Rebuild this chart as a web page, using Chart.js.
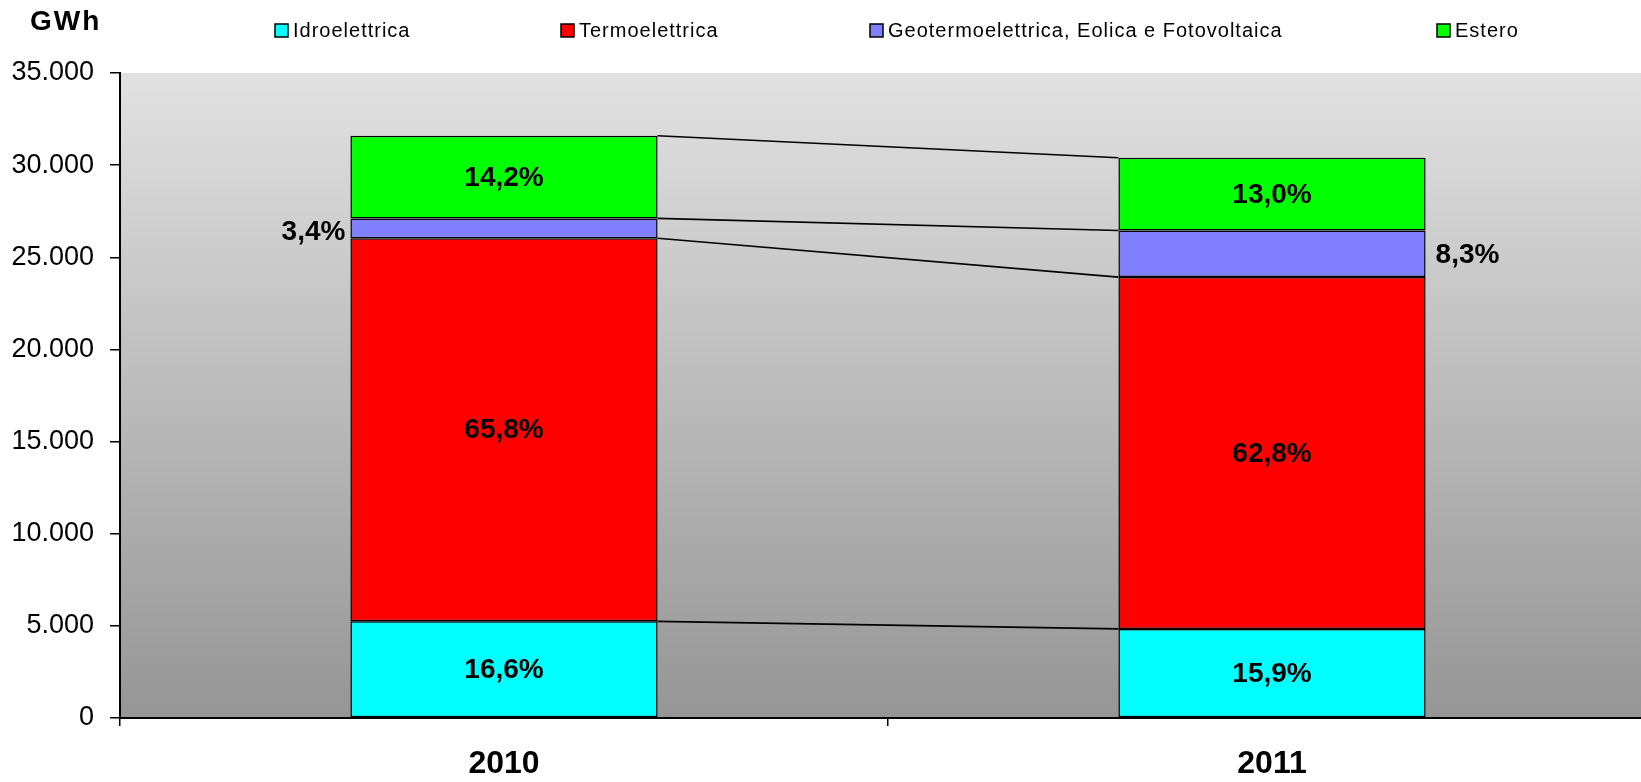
<!DOCTYPE html>
<html>
<head>
<meta charset="utf-8">
<title>Produzione GWh 2010-2011</title>
<script src="https://cdn.jsdelivr.net/npm/chart.js@4/dist/chart.umd.min.js"></script>
<style>
html, body { margin: 0; padding: 0; overflow: hidden; background: #fff; }
#wrap { width: 1656px; height: 782px; }
</style>
</head>
<body>
<div id="wrap"><canvas id="myChart" width="1656" height="782"></canvas></div>
<script>
// dati
var anni = ['2010', '2011'];
var serie = ['Idroelettrica', 'Termoelettrica', 'Geotermoelettrica, Eolica e Fotovoltaica', 'Estero'];
var idro = [5245, 4835];
var termo = [20790, 19090];
var geo = [1075, 2525];
var estero = [4485, 3950];
var pctIdro = [16.6, 15.9];
var pctTermo = [65.8, 62.8];
var pctGeo = [3.4, 8.3];
var pctEstero = [14.2, 13.0];
var yMax = 35000;
var yStep = 5000;

var colori = ['#00ffff', '#ff0000', '#8080ff', '#00ff00'];
var valori = [idro, termo, geo, estero];
var percentuali = [pctIdro, pctTermo, pctGeo, pctEstero];
var FONT = "'Liberation Sans', Arial, sans-serif";

function fmtMigliaia(v) {
    return String(v).replace(/\B(?=(\d{3})+(?!\d))/g, '.');
}
function fmtPct(v) {
    return v.toFixed(1).replace('.', ',') + '%';
}

// sfondo grigio sfumato dell'area del grafico
var sfondoPlugin = {
    id: 'sfondo',
    beforeDraw: function(chart) {
        var a = chart.chartArea, ctx = chart.ctx;
        var g = ctx.createLinearGradient(0, a.top, 0, a.bottom);
        g.addColorStop(0, '#e1e1e1');
        g.addColorStop(1, '#959595');
        ctx.save();
        ctx.fillStyle = g;
        ctx.fillRect(a.left, a.top, a.right - a.left, a.bottom - a.top);
        ctx.restore();
    }
};

// linee di collegamento tra le barre
var lineePlugin = {
    id: 'linee',
    afterDatasetsDraw: function(chart) {
        var ctx = chart.ctx;
        ctx.save();
        ctx.strokeStyle = '#000';
        ctx.lineWidth = 1.6;
        chart.data.datasets.forEach(function(ds, i) {
            var meta = chart.getDatasetMeta(i);
            var b0 = meta.data[0], b1 = meta.data[1];
            ctx.beginPath();
            ctx.moveTo(b0.x + b0.width / 2, b0.y);
            ctx.lineTo(b1.x - b1.width / 2, b1.y);
            ctx.stroke();
        });
        ctx.restore();
    }
};

// etichette percentuali, legenda e titolo asse
var testiPlugin = {
    id: 'testi',
    afterDraw: function(chart) {
        var ctx = chart.ctx;
        ctx.save();
        ctx.fillStyle = '#000';
        ctx.font = 'bold 28px ' + FONT;
        ctx.textBaseline = 'middle';
        chart.data.datasets.forEach(function(ds, i) {
            var meta = chart.getDatasetMeta(i);
            meta.data.forEach(function(bar, j) {
                var txt = fmtPct(percentuali[i][j]);
                var yc = (bar.y + bar.base) / 2 + 1;
                if (i === 2) {
                    if (j === 0) {
                        ctx.textAlign = 'right';
                        ctx.fillText(txt, bar.x - bar.width / 2 - 5, yc + 3);
                    } else {
                        ctx.textAlign = 'left';
                        ctx.fillText(txt, bar.x + bar.width / 2 + 10, yc);
                    }
                } else {
                    ctx.textAlign = 'center';
                    ctx.fillText(txt, bar.x, yc);
                }
            });
        });

        // titolo asse y
        ctx.textAlign = 'left';
        ctx.font = 'bold 28px ' + FONT;
        ctx.letterSpacing = '2px';
        ctx.fillText('GWh', 30, 22);

        // legenda
        var legX = [275, 561, 870, 1437];
        ctx.font = '20px ' + FONT;
        ctx.letterSpacing = '1px';
        serie.forEach(function(nome, i) {
            ctx.fillStyle = colori[i];
            ctx.fillRect(legX[i], 24, 13, 13);
            ctx.strokeStyle = '#000';
            ctx.lineWidth = 1.5;
            ctx.strokeRect(legX[i], 24, 13, 13);
            ctx.fillStyle = '#000';
            ctx.fillText(nome, legX[i] + 18, 31);
        });
        ctx.letterSpacing = '0px';
        ctx.restore();
    }
};

var datasets = serie.map(function(nome, i) {
    return {
        label: nome,
        data: valori[i],
        backgroundColor: colori[i],
        borderColor: '#000',
        borderWidth: 1.5,
        borderSkipped: false,
        barPercentage: 0.4,
        categoryPercentage: 1
    };
});

var ctx = document.getElementById('myChart').getContext('2d');
var myChart = new Chart(ctx, {
    type: 'bar',
    data: { labels: anni, datasets: datasets },
    options: {
        responsive: false,
        animation: false,
        devicePixelRatio: 1,
        layout: { padding: { top: 73, left: 0, right: 0, bottom: 0 } },
        plugins: {
            legend: { display: false },
            tooltip: { enabled: false }
        },
        scales: {
            x: {
                stacked: true,
                afterFit: function(scale) { scale.height = 64; },
                grid: {
                    offset: true,
                    drawOnChartArea: false,
                    drawTicks: true,
                    tickLength: 8,
                    color: '#000',
                    lineWidth: 1.5
                },
                border: { color: '#000', width: 2 },
                ticks: {
                    color: '#000',
                    padding: 19,
                    font: { family: FONT, size: 32, weight: 'bold' }
                }
            },
            y: {
                stacked: true,
                min: 0,
                max: yMax,
                afterFit: function(scale) { scale.width = 120; },
                grid: {
                    drawOnChartArea: false,
                    drawTicks: true,
                    tickLength: 10,
                    color: '#000',
                    lineWidth: 1.5
                },
                border: { color: '#000', width: 2 },
                ticks: {
                    stepSize: yStep,
                    color: '#000',
                    padding: 16,
                    font: { family: FONT, size: 27 },
                    callback: function(v) { return fmtMigliaia(v); }
                }
            }
        }
    },
    plugins: [sfondoPlugin, lineePlugin, testiPlugin]
});
</script>
</body>
</html>
